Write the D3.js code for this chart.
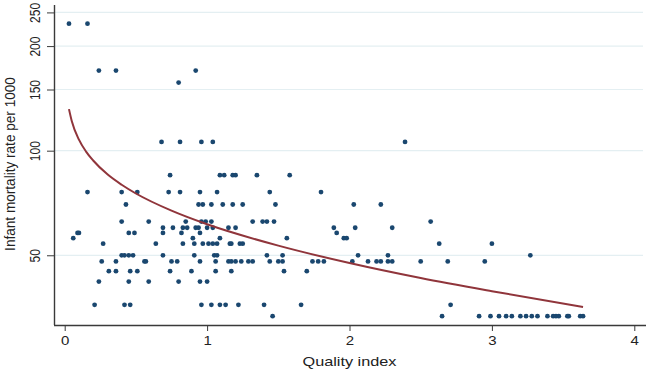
<!DOCTYPE html>
<html>
<head>
<meta charset="utf-8">
<script src="https://cdn.jsdelivr.net/npm/d3@7"></script>
<style>
  html, body { margin: 0; padding: 0; background: #fff; }
  svg { display: block; font-family: "Liberation Sans", Arial, sans-serif; }
</style>
</head>
<body>
<svg id="chart" width="646" height="369"></svg>
<script>
// mortality levels (rows of points) and the quality index of each point on that row
const mortalityLevels = [232, 170, 157, 106, 85, 76, 70, 62.5, 60, 58, 56, 54, 50, 48, 45, 42, 36, 33.4];
const qualityByLevel = [
  [0.03, 0.16],
  [0.24, 0.36, 0.92],
  [0.80],
  [0.68, 0.81, 0.96, 1.04, 2.39],
  [0.74, 1.09, 1.12, 1.18, 1.20, 1.35, 1.58],
  [0.16, 0.40, 0.51, 0.73, 0.81, 0.95, 1.07, 1.44, 1.80],
  [0.43, 0.94, 0.97, 1.03, 1.11, 1.18, 1.25, 1.48, 2.03, 2.22],
  [0.40, 0.59, 0.85, 0.96, 0.99, 1.03, 1.32, 1.39, 1.42, 1.47, 2.57],
  [0.69, 0.76, 0.83, 0.86, 0.92, 0.94, 1.00, 1.04, 1.15, 1.20, 1.89, 2.04, 2.30],
  [0.09, 0.10, 0.45, 0.49, 0.69, 0.82, 0.95, 1.91],
  [0.06, 0.90, 1.09, 1.56, 1.96, 1.98],
  [0.27, 0.64, 0.83, 0.91, 0.97, 1.01, 1.04, 1.07, 1.16, 1.17, 1.23, 1.25, 2.63, 3.00],
  [0.40, 0.42, 0.45, 0.48, 0.69, 0.91, 1.05, 1.07, 1.42, 1.53, 2.06, 2.27, 3.27],
  [0.26, 0.36, 0.56, 0.57, 0.75, 0.79, 0.95, 1.06, 1.15, 1.17, 1.20, 1.24, 1.29, 1.32, 1.44, 1.50,
   1.53, 1.74, 1.78, 1.82, 2.02, 2.13, 2.19, 2.22, 2.27, 2.30, 2.50, 2.69, 2.95],
  [0.31, 0.36, 0.46, 0.51, 0.74, 0.89, 1.06, 1.17, 1.54, 1.70],
  [0.24, 0.45, 0.59, 0.80, 0.95, 1.00],
  [0.21, 0.42, 0.46, 0.96, 1.03, 1.09, 1.13, 1.22, 1.40, 1.66, 2.71],
  [1.46, 2.65, 2.91, 2.99, 3.05, 3.10, 3.14, 3.20, 3.24, 3.28, 3.32, 3.39, 3.43, 3.45, 3.47, 3.53, 3.54, 3.62, 3.64]
];

// fitted curve
const curveQuality = [0.03, 0.05, 0.1, 0.15, 0.2, 0.3, 0.4, 0.5, 0.75, 1, 1.5, 2, 2.5, 3, 3.64];
const curveMortality = [131.7, 121.5, 107.6, 99.4, 93.7, 85.5, 79.8, 75.3, 67.2, 61.4, 53.3, 47.5, 43.0, 39.4, 35.5];

const xTicks = [0, 1, 2, 3, 4];
const yTicks = [50, 100, 150, 200, 250];

const svg = d3.select("#chart");
const plot = { left: 54, right: 643, top: 5, bottom: 325 };

const x = d3.scaleLinear().domain([0, 4]).range([64.7, 634.3]);
const y = d3.scaleLog().domain([31.5, 262.6]).range([plot.bottom, plot.top]);

// horizontal grid
svg.append("g")
  .selectAll("line")
  .data(yTicks)
  .join("line")
  .attr("x1", plot.left)
  .attr("x2", plot.right)
  .attr("y1", d => y(d))
  .attr("y2", d => y(d))
  .attr("stroke", "#e4eff2")
  .attr("stroke-width", 1.2);

// points
const points = d3.merge(qualityByLevel.map((qs, i) => qs.map(q => ({ q, m: mortalityLevels[i] }))));

svg.append("g")
  .selectAll("circle")
  .data(points)
  .join("circle")
  .attr("cx", d => x(d.q))
  .attr("cy", d => y(d.m))
  .attr("r", 2.4)
  .attr("fill", "#1a476f");

// fitted line
const line = d3.line()
  .x(d => x(d[0]))
  .y(d => y(d[1]))
  .curve(d3.curveMonotoneX);

svg.append("path")
  .datum(curveQuality.map((q, i) => [q, curveMortality[i]]))
  .attr("d", line)
  .attr("fill", "none")
  .attr("stroke", "#90353b")
  .attr("stroke-width", 2);

// axes
const xAxis = svg.append("g")
  .attr("transform", `translate(0,${ plot.bottom })`)
  .call(d3.axisBottom(x).tickValues(xTicks).tickSize(6).tickSizeOuter(0).tickFormat(d3.format("d")));
xAxis.select(".domain").attr("d", `M${ plot.left },0.5H646`);

const yAxis = svg.append("g")
  .attr("transform", `translate(${ plot.left },0)`)
  .call(d3.axisLeft(y).tickValues(yTicks).tickSize(7).tickSizeOuter(0).tickFormat(d3.format("d")));
yAxis.select(".domain").attr("d", `M0.5,${ plot.top }V${ plot.bottom }`);

svg.selectAll(".domain").attr("stroke", "#3a3a3a").attr("stroke-width", 1.4);
svg.selectAll(".tick line").attr("stroke", "#3a3a3a");

xAxis.selectAll(".tick text")
  .attr("y", 0)
  .attr("dy", 0)
  .attr("transform", "translate(0,20) scale(1.25,1)")
  .attr("font-size", 12)
  .attr("fill", "#222");

yAxis.selectAll(".tick text")
  .attr("x", 0)
  .attr("dy", 0)
  .attr("text-anchor", "middle")
  .attr("transform", "translate(-14,0) scale(1.25,1) rotate(-90)")
  .attr("font-size", 12)
  .attr("fill", "#222");

// axis titles
svg.append("text")
  .attr("transform", "translate(349.5,365.5) scale(1.25,1)")
  .attr("text-anchor", "middle")
  .attr("font-size", 13)
  .attr("fill", "#222")
  .text("Quality index");

svg.append("text")
  .attr("transform", "translate(15,164) scale(1.05,1) rotate(-90)")
  .attr("text-anchor", "middle")
  .attr("font-size", 13.6)
  .attr("fill", "#222")
  .text("Infant mortality rate per 1000");
</script>
</body>
</html>
